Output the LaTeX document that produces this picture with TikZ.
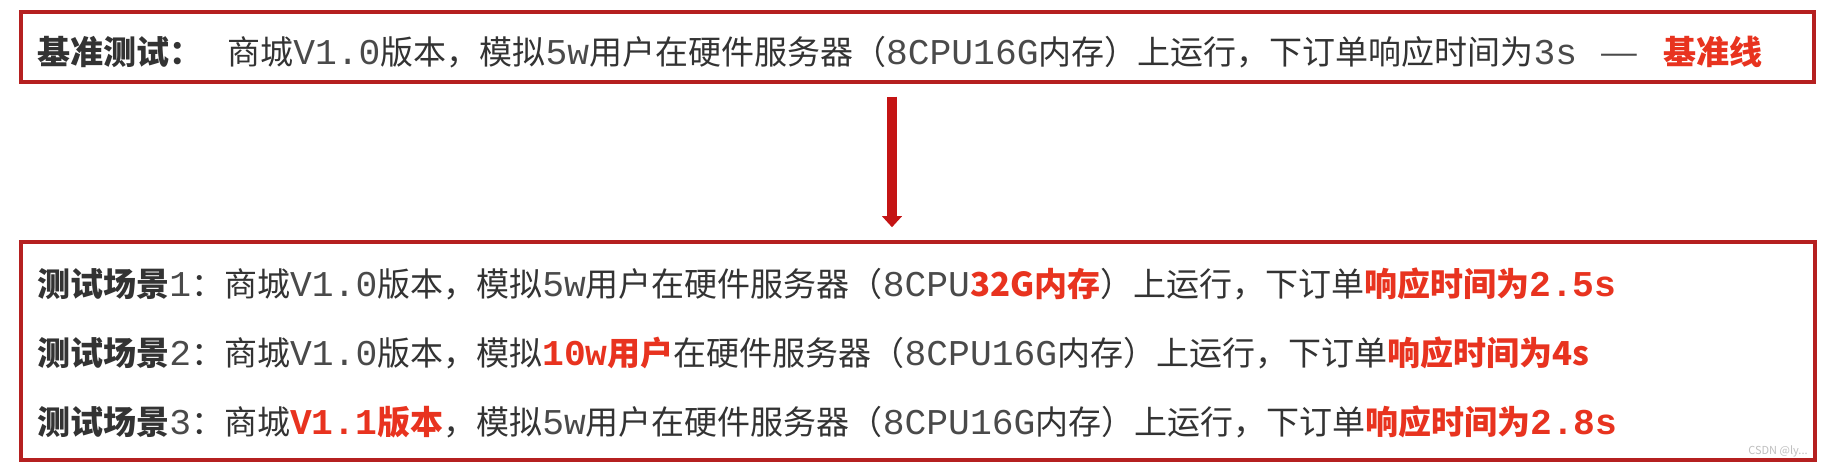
\documentclass[tikz,border=0pt]{standalone}
\usepackage{fontspec}
\usepackage{graphicx}
\setmainfont{Noto Sans CJK SC}
\newfontfamily\mono{Liberation Mono}[Scale=1.1]
\newfontfamily\monob{Liberation Mono}[Scale=1.1]
\usetikzlibrary{arrows.meta,calc}
\definecolor{hl}{HTML}{E8331F}
\definecolor{boxc}{HTML}{B52020}
\definecolor{arrc}{HTML}{C41414}
\definecolor{txt}{HTML}{333333}
\definecolor{mtxt}{HTML}{4A4A4A}
\newcommand\M[1]{{\color{mtxt}\mono #1}}
\newcommand\RB[1]{{\color{hl}\bfseries #1}}
\newcommand\RM[1]{{\color{hl}\monob\bfseries #1}}
\begin{document}
\begin{tikzpicture}[x=0.5pt,y=-0.5pt,
  frame/.style={draw=boxc, line width=1.75pt, inner sep=0pt, fill=white},
  line/.style={anchor=base west, inner sep=0pt, text=txt, font=\fontsize{16.5pt}{20pt}\selectfont},
  arr/.style={draw=arrc, line width=5.3pt, -{Triangle[width=9.8pt,length=5.6pt]}, shorten <=6.5pt, shorten >=6.5pt}]
\path[use as bounding box, fill=white] (0,0) rectangle (1827,470);
\node[frame, minimum width=896.5pt, minimum height=35pt] (top) at (917.5,47) {};
\node[frame, minimum width=897pt, minimum height=109pt] (bot) at (918,351) {};
\node[line] (t0) at (37,64.5) {{\bfseries 基准测试：}\hspace{12.5pt}商城\M{V1.0}版本，模拟\M{5w}用户在硬件服务器（\M{8CPU16G}内存）上运行，下订单响应时间为\M{3s}};
\node[line, anchor=base, text=mtxt] (dash) at (1619.5,64.5) {\scalebox{1.35}[1]{—}};
\node[line] (bl) at (1663,64.5) {\RB{基准线}};
\node[line] (s1) at (37,296.5) {{\bfseries 测试场景}\M{1}：商城\M{V1.0}版本，模拟\M{5w}用户在硬件服务器（\M{8CPU}\RB{32G内存}）上运行，下订单\RB{响应时间为}\RM{2.5s}};
\node[line] (s2) at (37,365.5) {{\bfseries 测试场景}\M{2}：商城\M{V1.0}版本，模拟\RM{10w}\RB{用户}在硬件服务器（\M{8CPU16G}内存）上运行，下订单\RB{响应时间为4s}};
\node[line] (s3) at (37,434.5) {{\bfseries 测试场景}\M{3}：商城\RM{V1.1}\RB{版本}，模拟\M{5w}用户在硬件服务器（\M{8CPU16G}内存）上运行，下订单\RB{响应时间为}\RM{2.8s}};
\coordinate (ax) at (892,0);
\draw[arr] (top.south -| ax) -- (bot.north -| ax);
\node[anchor=south east, inner sep=0pt, text=black!25, font=\fontsize{5.5pt}{6pt}\selectfont] (wm) at (1808,457) {CSDN @ly...};
\end{tikzpicture}
\end{document}
